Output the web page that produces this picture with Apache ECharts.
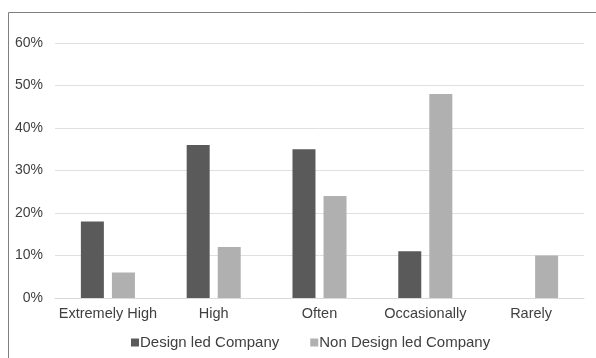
<!DOCTYPE html>
<html>
<head>
<meta charset="utf-8">
<script src="https://cdn.jsdelivr.net/npm/echarts@6/dist/echarts.min.js"></script>
<style>
  html, body { margin: 0; padding: 0; background: #fff; }
  #chart { width: 596px; height: 358px; }
</style>
</head>
<body>
<div id="chart"></div>
<script>
var categories = ["Extremely High", "High", "Often", "Occasionally", "Rarely"];
var designLed = [18, 36, 35, 11, 0];
var nonDesignLed = [6, 12, 24, 48, 10];
var seriesNames = ["Design led Company", "Non Design led Company"];

var myChart = echarts.init(document.getElementById("chart"));

var option = {
    animation: false,
    textStyle: { fontFamily: "Liberation Sans, Arial, sans-serif" },
    // frame round the picture
    graphic: [{
        type: "polyline",
        shape: { points: [[8.5, 358], [8.5, 12.5], [596, 12.5]] },
        style: { stroke: "#7f7f7f", lineWidth: 1, fill: null }
    }],
    legend: {
        top: 330,
        left: 126,
        itemWidth: 8,
        itemHeight: 8,
        itemGap: 31,
        icon: "rect",
        textStyle: { color: "#404040", fontSize: 15, padding: [0, 0, 0, -4] },
        data: seriesNames
    },
    grid: {
        left: 55,
        right: 12,
        top: 43,
        bottom: 60
    },
    xAxis: {
        type: "category",
        data: categories,
        axisTick: { show: false },
        axisLine: { lineStyle: { color: "#d9d9d9" } },
        axisLabel: { color: "#404040", fontSize: 14.5, margin: 8, interval: 0 }
    },
    yAxis: {
        type: "value",
        min: 0,
        max: 60,
        interval: 10,
        axisLine: { show: false },
        axisTick: { show: false },
        axisLabel: { color: "#404040", fontSize: 14, margin: 12, formatter: "{value}%" },
        splitLine: { lineStyle: { color: "#e0e0e0" } }
    },
    series: [{
        name: seriesNames[0],
        type: "bar",
        barWidth: 23,
        barGap: "35%",
        itemStyle: { color: "#5a5a5a" },
        data: designLed
    }, {
        name: seriesNames[1],
        type: "bar",
        barWidth: 23,
        itemStyle: { color: "#b0b0b0" },
        data: nonDesignLed
    }]
};
myChart.setOption(option);
window.addEventListener("resize", function() {
    myChart.resize();
});
</script>
</body>
</html>
